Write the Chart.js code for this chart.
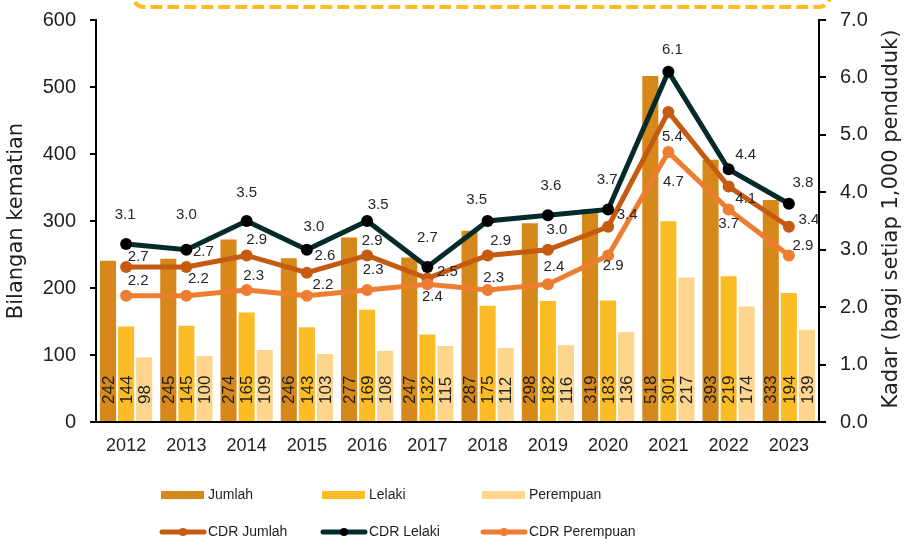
<!DOCTYPE html>
<html>
<head>
<meta charset="utf-8">
<script src="https://cdn.jsdelivr.net/npm/chart.js@4.4.1/dist/chart.umd.min.js"></script>
<style>
  html, body { margin: 0; padding: 0; background: #ffffff; }
  #wrap { width: 904px; height: 539px; position: relative; }
</style>
</head>
<body>
<div id="wrap"><canvas id="c" width="904" height="539"></canvas></div>
<script>
// Kematian mengikut tahun (bilangan) dan kadar kematian kasar (CDR)
const years = ['2012', '2013', '2014', '2015', '2016', '2017', '2018', '2019', '2020', '2021', '2022', '2023'];
const jumlah = [242, 245, 274, 246, 277, 247, 287, 298, 319, 518, 393, 333];
const lelaki = [144, 145, 165, 143, 169, 132, 175, 182, 183, 301, 219, 194];
const perempuan = [98, 100, 109, 103, 108, 115, 112, 116, 136, 217, 174, 139];
const cdrJumlah = [2.7, 2.7, 2.9, 2.6, 2.9, 2.5, 2.9, 3.0, 3.4, 5.4, 4.1, 3.4];
const cdrLelaki = [3.1, 3.0, 3.5, 3.0, 3.5, 2.7, 3.5, 3.6, 3.7, 6.1, 4.4, 3.8];
const cdrPerempuan = [2.2, 2.2, 2.3, 2.2, 2.3, 2.4, 2.3, 2.4, 2.9, 4.7, 3.7, 2.9];
const leftAxisTitle = 'Bilangan kematian';
const rightAxisTitle = 'Kadar (bagi setiap 1,000 penduduk)';

// Placement of each rate label relative to its point (dx, dy in px)
const labelShift = {
  cdrJumlah:    [[12,-10],[17,-15],[10,-16],[18,-17],[5,-15],[20,-7],[13,-15],[9,-20],[19,-12],[4,25],[17,12],[20,-7]],
  cdrLelaki:    [[-1,-29],[0,-35],[0,-28],[7,-23],[11,-16],[0,-29],[-11,-21],[3,-29],[-1,-30],[4,-22],[17,-14],[14,-21]],
  cdrPerempuan: [[12,-15],[12,-17],[7,-14],[16,-11],[6,-20],[5,13],[6,-12],[6,-17],[5,10],[5,30],[0,14],[14,-10]]
};

const C = {
  jumlah: '#D6891A',
  lelaki: '#FBBC26',
  perempuan: '#FDD58D',
  cdrJumlah: '#C55A11',
  cdrLelaki: '#042A2B',
  cdrPerempuan: '#ED7D31',
  frame: '#FBBC26',
  text: '#1f1f1f'
};
const NUM_FONT = '"Liberation Sans", Arial, sans-serif';
const TITLE_FONT = '"DejaVu Sans", sans-serif';

// Dashed rounded box peeking in at the top edge
const topBox = {
  id: 'topBox',
  beforeDraw(chart) {
    const ctx = chart.ctx;
    ctx.save();
    ctx.strokeStyle = C.frame;
    ctx.lineWidth = 4;
    ctx.setLineDash([12, 5]);
    ctx.beginPath();
    ctx.roundRect(133, -60, 697, 67, 11);
    ctx.stroke();
    ctx.restore();
  }
};

// Rotated count labels at the foot of each bar
const barValues = {
  id: 'barValues',
  afterDatasetsDraw(chart) {
    const ctx = chart.ctx;
    chart.data.datasets.forEach((ds, i) => {
      if (ds.type !== 'bar') return;
      const meta = chart.getDatasetMeta(i);
      meta.data.forEach((bar, j) => {
        ctx.save();
        ctx.translate(bar.x + 1, bar.base - 17);
        ctx.rotate(-Math.PI / 2);
        ctx.font = '17px ' + NUM_FONT;
        ctx.fillStyle = C.text;
        ctx.textAlign = 'left';
        ctx.textBaseline = 'middle';
        ctx.fillText(String(ds.data[j]), 0, 0);
        ctx.restore();
      });
    });
  }
};

// Rate labels near each point
const rateValues = {
  id: 'rateValues',
  afterDraw(chart) {
    const ctx = chart.ctx;
    chart.data.datasets.forEach((ds, i) => {
      if (ds.type !== 'line') return;
      const meta = chart.getDatasetMeta(i);
      const shifts = labelShift[ds.key];
      meta.data.forEach((pt, j) => {
        const s = shifts[j];
        ctx.save();
        ctx.font = '15px ' + NUM_FONT;
        ctx.fillStyle = '#262626';
        ctx.textAlign = 'center';
        ctx.textBaseline = 'middle';
        ctx.fillText(ds.data[j].toFixed(1), pt.x + s[0], pt.y + s[1]);
        ctx.restore();
      });
    });
  }
};

// Axis titles (both read bottom-to-top) and the two-row legend
const frameText = {
  id: 'frameText',
  afterDraw(chart) {
    const ctx = chart.ctx;
    const area = chart.chartArea;
    const midY = (area.top + area.bottom) / 2;
    ctx.save();
    ctx.font = '21px ' + TITLE_FONT;
    ctx.fillStyle = C.text;
    ctx.textAlign = 'center';
    ctx.textBaseline = 'middle';
    ctx.translate(17, midY);
    ctx.rotate(-Math.PI / 2);
    ctx.fillText(leftAxisTitle, 0, 0);
    ctx.restore();

    ctx.save();
    ctx.font = '21px ' + TITLE_FONT;
    ctx.fillStyle = C.text;
    ctx.textAlign = 'center';
    ctx.textBaseline = 'middle';
    ctx.translate(892, midY - 2);
    ctx.rotate(-Math.PI / 2);
    ctx.fillText(rightAxisTitle, 0, 0);
    ctx.restore();

    const cols = [161, 322, 482];
    const ds = chart.data.datasets;
    const bars = ds.filter(d => d.type === 'bar');
    const lines = ds.filter(d => d.type === 'line');
    ctx.save();
    ctx.font = '14px ' + NUM_FONT;
    ctx.fillStyle = C.text;
    ctx.textAlign = 'left';
    ctx.textBaseline = 'middle';
    bars.forEach((d, k) => {
      const x = cols[k];
      ctx.fillStyle = d.backgroundColor;
      ctx.fillRect(x, 491, 43, 8);
      ctx.fillStyle = C.text;
      ctx.fillText(d.label, x + 47, 495);
    });
    lines.forEach((d, k) => {
      const x = cols[k];
      const y = 532;
      ctx.strokeStyle = d.borderColor;
      ctx.lineWidth = 5;
      ctx.lineCap = 'round';
      ctx.beginPath();
      ctx.moveTo(x + 1, y);
      ctx.lineTo(x + 43, y);
      ctx.stroke();
      ctx.fillStyle = d.pointBackgroundColor;
      ctx.beginPath();
      ctx.arc(x + 22, y, 4, 0, Math.PI * 2);
      ctx.fill();
      ctx.fillStyle = C.text;
      ctx.fillText(d.label, x + 47, y);
    });
    ctx.restore();
  }
};

const barStyle = { type: 'bar', yAxisID: 'yL', order: 10, categoryPercentage: 0.9, barPercentage: 1.0,
  borderWidth: 1, borderColor: 'rgba(255,255,255,0.45)' };
const lineStyle = { type: 'line', yAxisID: 'yR', borderWidth: 5, pointRadius: 6, pointHoverRadius: 6,
  pointBorderWidth: 0, tension: 0, fill: false };

function fixVertical(width) {
  return function (s) {
    s.width = width;
    s.paddingTop = 0;
    s.paddingBottom = 0;
  };
}

new Chart(document.getElementById('c'), {
  data: {
    labels: years,
    datasets: [
      Object.assign({}, barStyle, { label: 'Jumlah', data: jumlah, backgroundColor: C.jumlah }),
      Object.assign({}, barStyle, { label: 'Lelaki', data: lelaki, backgroundColor: C.lelaki }),
      Object.assign({}, barStyle, { label: 'Perempuan', data: perempuan, backgroundColor: C.perempuan }),
      Object.assign({}, lineStyle, { key: 'cdrJumlah', label: 'CDR Jumlah', data: cdrJumlah, order: 3,
        borderColor: C.cdrJumlah, backgroundColor: C.cdrJumlah, pointBackgroundColor: C.cdrJumlah }),
      Object.assign({}, lineStyle, { key: 'cdrLelaki', label: 'CDR Lelaki', data: cdrLelaki, order: 2,
        borderColor: C.cdrLelaki, backgroundColor: C.cdrLelaki, pointBackgroundColor: '#000000' }),
      Object.assign({}, lineStyle, { key: 'cdrPerempuan', label: 'CDR Perempuan', data: cdrPerempuan, order: 1,
        borderColor: C.cdrPerempuan, backgroundColor: C.cdrPerempuan, pointBackgroundColor: C.cdrPerempuan })
    ]
  },
  options: {
    responsive: false,
    animation: false,
    events: [],
    layout: { padding: { top: 20, left: 0, right: 0, bottom: 0 } },
    plugins: { legend: { display: false }, tooltip: { enabled: false }, title: { display: false } },
    scales: {
      x: {
        type: 'category',
        offset: true,
        grid: { display: false, drawTicks: false },
        border: { display: true, color: '#000', width: 2 },
        ticks: { color: C.text, font: { family: NUM_FONT, size: 18 }, padding: 13, maxRotation: 0, autoSkip: false },
        afterFit(s) { s.height = 117; s.paddingLeft = 0; s.paddingRight = 0; }
      },
      yL: {
        type: 'linear',
        position: 'left',
        min: 0, max: 600,
        grid: { display: true, drawOnChartArea: false, drawTicks: true, tickLength: 6, tickColor: '#000', lineWidth: 2 },
        border: { display: true, color: '#000', width: 2 },
        ticks: { stepSize: 100, color: C.text, font: { family: NUM_FONT, size: 20 }, padding: 14 },
        afterFit: fixVertical(96)
      },
      yR: {
        type: 'linear',
        position: 'right',
        min: 0, max: 7,
        grid: { display: true, drawOnChartArea: false, drawTicks: true, tickLength: 7, tickColor: '#000', lineWidth: 2 },
        border: { display: true, color: '#000', width: 2 },
        ticks: { stepSize: 1, color: C.text, font: { family: NUM_FONT, size: 20 }, padding: 14,
          callback: v => Number(v).toFixed(1) },
        afterFit: fixVertical(85)
      }
    }
  },
  plugins: [topBox, barValues, rateValues, frameText]
});
</script>
</body>
</html>
